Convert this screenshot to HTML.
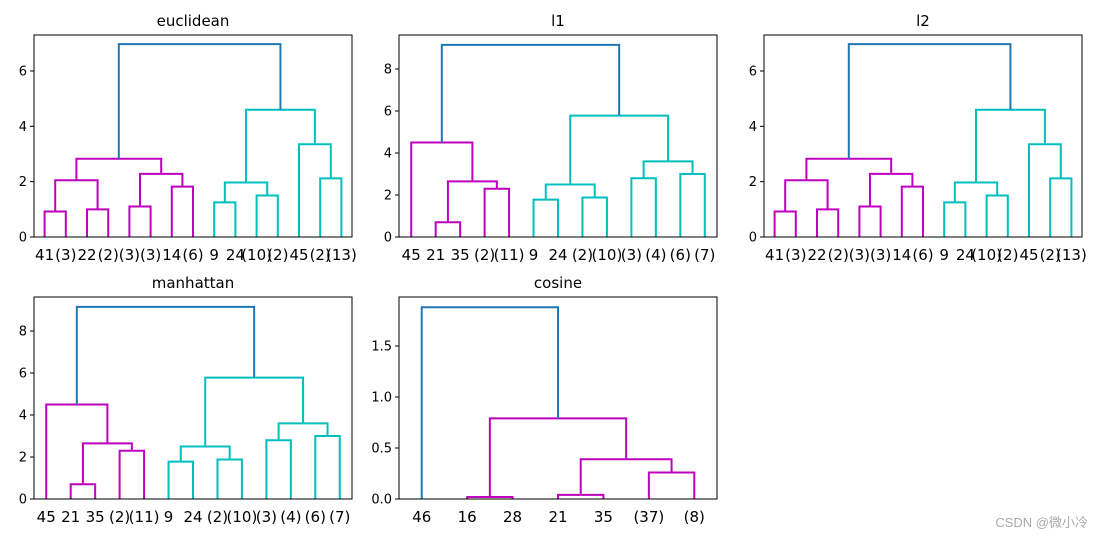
<!DOCTYPE html>
<html><head><meta charset="utf-8">
<style>
html,body{margin:0;padding:0;background:#fff;}
svg{display:block;font-family:"DejaVu Sans","Liberation Sans","Noto Sans CJK SC",sans-serif;}
</style></head>
<body>
<svg id="chart" width="1104" height="539" viewBox="0 0 1104 539" xmlns="http://www.w3.org/2000/svg">
<text x="1088" y="527" text-anchor="end" font-size="13" fill="#aaa" font-family="Liberation Sans, Noto Sans CJK SC, sans-serif">CSDN @微小冷</text>
</svg>
<script>
const M='#bf00bf', C='#00bfbf', B='#1f77b4';
// euclidean / l2 tree
const eucLeaves=['41','(3)','22','(2)','(3)','(3)','14','(6)','9','24','(10)','(2)','45','(2)','(13)'];
const eucLeft=[0,2,15,4,6,18,17,8,10,22,13,12,24,21];
const eucRight=[1,3,16,5,7,19,20,9,11,23,14,25,26,27];
const eucHeight=[0.92,1.0,2.05,1.1,1.82,2.28,2.83,1.25,1.5,1.97,2.12,3.35,4.6,6.97];
const eucColor=['m','m','m','m','m','m','m','c','c','c','c','c','c','b'];
// l1 / manhattan tree
const l1Leaves=['45','21','35','(2)','(11)','9','24','(2)','(10)','(3)','(4)','(6)','(7)'];
const l1Left=[1,3,13,0,5,7,17,9,11,20,19,16];
const l1Right=[2,4,14,15,6,8,18,10,12,21,22,23];
const l1Height=[0.7,2.3,2.65,4.5,1.78,1.88,2.5,2.8,3.0,3.6,5.78,9.15];
const l1Color=['m','m','m','m','c','c','c','c','c','c','c','b'];
// cosine tree
const cosLeaves=['46','16','28','21','35','(37)','(8)'];
const cosLeft=[1,3,5,8,7,0];
const cosRight=[2,4,6,9,10,11];
const cosHeight=[0.02,0.04,0.26,0.39,0.79,1.88];
const cosColor=['m','m','m','m','m','b'];

const NS='http://www.w3.org/2000/svg';
const svg=document.getElementById('chart');
function mk(tag,attrs,parent){const e=document.createElementNS(NS,tag);for(const k in attrs)e.setAttribute(k,attrs[k]);(parent||svg).appendChild(e);return e;}
const colMap={m:M,c:C,b:B};

function panel(name,title,x0,y0,w,h,ymax,ticks,tickLbl,leaves,L,R,H,COL){
  const g=mk('g',{});
  
  
  const n=leaves.length;
  const xs=v=>x0+v/(10*n)*w;
  const ys=v=>y0+h-v/ymax*h;
  const px=[],py=[];
  for(let i=0;i<n;i++){px.push(5+10*i);py.push(0);}
  for(let k=0;k<H.length;k++){
    const a=L[k],b=R[k],ht=H[k];
    const d=`M${xs(px[a])},${ys(py[a])}L${xs(px[a])},${ys(ht)}L${xs(px[b])},${ys(ht)}L${xs(px[b])},${ys(py[b])}`;
    const p=mk('path',{d:d,fill:'none',stroke:colMap[COL[k]],'stroke-width':2},g);
    
    
    px.push((px[a]+px[b])/2);py.push(ht);
  }
  const fr=mk('rect',{x:x0,y:y0,width:w,height:h,fill:'none',stroke:'#000','stroke-width':1},g);
  
  
  const t=mk('text',{x:x0+w/2,y:y0-9,'text-anchor':'middle','font-size':15,fill:'#000'},g);
  t.textContent=title;
  
  
  ticks.forEach((v,i)=>{
    mk('line',{x1:x0-4,x2:x0,y1:ys(v),y2:ys(v),stroke:'#000','stroke-width':1},g);
    const tl=mk('text',{x:x0-7,y:ys(v)+4.5,'text-anchor':'end','font-size':13,fill:'#000'},g);
    tl.textContent=tickLbl[i];
    
    
  });
  leaves.forEach((lb,i)=>{
    const ll=mk('text',{x:xs(5+10*i),y:y0+h+23,'text-anchor':'middle','font-size':15,fill:'#000'},g);
    ll.textContent=lb;
    
    
  });
}
panel('euclidean','euclidean',34,35,318,202,7.3,[0,2,4,6],['0','2','4','6'],eucLeaves,eucLeft,eucRight,eucHeight,eucColor);
panel('l1','l1',399,35,318,202,9.62,[0,2,4,6,8],['0','2','4','6','8'],l1Leaves,l1Left,l1Right,l1Height,l1Color);
panel('l2','l2',764,35,318,202,7.3,[0,2,4,6],['0','2','4','6'],eucLeaves,eucLeft,eucRight,eucHeight,eucColor);
panel('manhattan','manhattan',34,297,318,202,9.62,[0,2,4,6,8],['0','2','4','6','8'],l1Leaves,l1Left,l1Right,l1Height,l1Color);
panel('cosine','cosine',399,297,318,202,1.98,[0,0.5,1,1.5],['0.0','0.5','1.0','1.5'],cosLeaves,cosLeft,cosRight,cosHeight,cosColor);
</script>
</body></html>
